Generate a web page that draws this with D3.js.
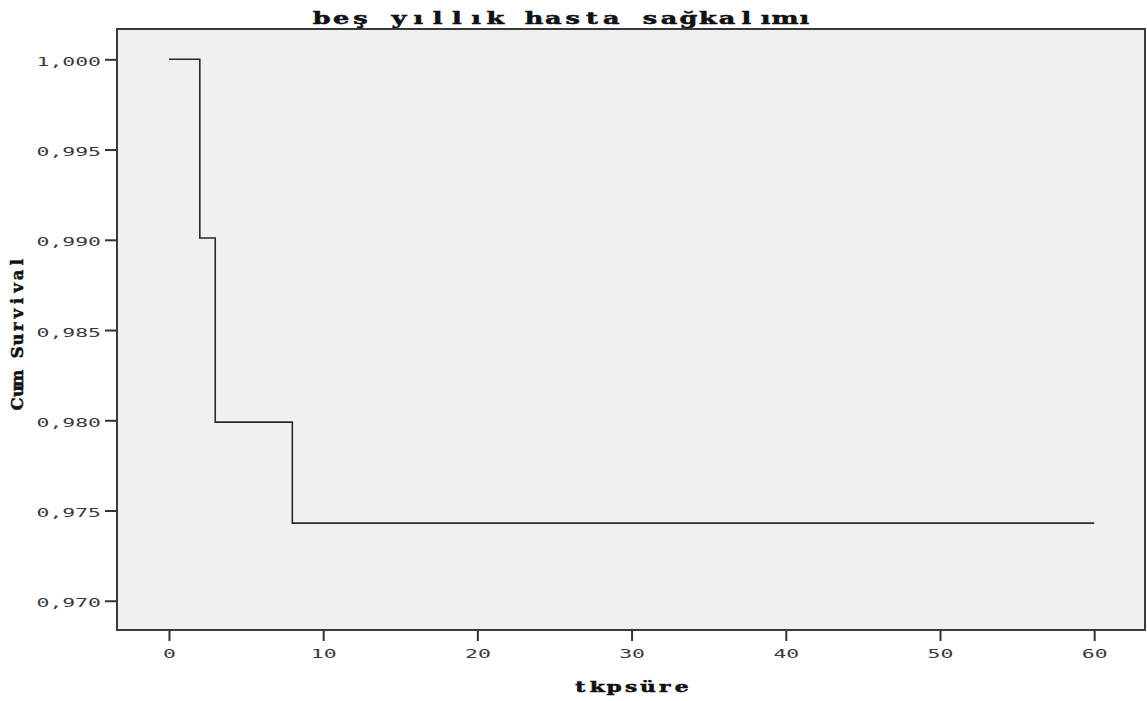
<!DOCTYPE html>
<html>
<head>
<meta charset="utf-8">
<script src="https://cdn.jsdelivr.net/npm/d3@7"></script>
<style>
  html, body { margin: 0; padding: 0; background: #ffffff; }
  svg { display: block; }
</style>
</head>
<body>
<svg id="chart" width="1147" height="701"></svg>
<script>
// ---- data ----
const times = [0, 2, 3, 8, 60];
const survival = [1.000, 0.9901, 0.9799, 0.9743, 0.9743];
const xTicks = [0, 10, 20, 30, 40, 50, 60];
const yTicks = [0.970, 0.975, 0.980, 0.985, 0.990, 0.995, 1.000];
const titleText = "beş yıllık hasta sağkalımı";
const xLabel = "tkpsüre";
const yLabel = "Cum Survival";

// ---- layout ----
const plot = { left: 117, top: 29, right: 1146, bottom: 630 };

const svg = d3.select("#chart");

const x = d3.scaleLinear().domain([-3.37, 63.36]).range([plot.left, plot.right]);
const y = d3.scaleLinear().domain([0.96838, 1.00168]).range([plot.bottom, plot.top]);

// plot background
svg.append("rect")
  .attr("x", plot.left).attr("y", plot.top)
  .attr("width", plot.right - plot.left).attr("height", plot.bottom - plot.top)
  .attr("fill", "#f0f0f0");

// step line
const pts = times.map((t, i) => [t, survival[i]]);
const line = d3.line().x(d => x(d[0])).y(d => y(d[1])).curve(d3.curveStepAfter);
svg.append("path")
  .attr("d", line(pts))
  .attr("fill", "none")
  .attr("stroke", "#2a2a2a")
  .attr("stroke-width", 1.6);

// frame
svg.append("rect")
  .attr("x", plot.left).attr("y", plot.top)
  .attr("width", plot.right - plot.left - 1).attr("height", plot.bottom - plot.top)
  .attr("fill", "none")
  .attr("stroke", "#3a3a3a")
  .attr("stroke-width", 2);

const fmt = v => d3.format(".3f")(v).replace(".", ",");
const charW = 12.9;

// y axis
const yAxis = d3.axisLeft(y).tickValues(yTicks).tickFormat(fmt).tickSize(12).tickPadding(4);
const gy = svg.append("g").attr("transform", `translate(${plot.left},0)`).call(yAxis);
gy.select(".domain").remove();
gy.selectAll(".tick line").attr("stroke", "#333").attr("stroke-width", 2);
gy.selectAll(".tick text")
  .attr("font-family", "DejaVu Sans Mono")
  .attr("font-size", 12)
  .attr("fill", "#3a3a3a")
  .attr("dy", null)
  .attr("y", 6)
  .attr("textLength", d => fmt(d).length * charW)
  .attr("lengthAdjust", "spacingAndGlyphs");

// x axis
const xAxis = d3.axisBottom(x).tickValues(xTicks).tickFormat(d3.format("d")).tickSize(11).tickPadding(6);
const gx = svg.append("g").attr("transform", `translate(0,${plot.bottom})`).call(xAxis);
gx.select(".domain").remove();
gx.selectAll(".tick line").attr("stroke", "#333").attr("stroke-width", 2);
gx.selectAll(".tick text")
  .attr("font-family", "DejaVu Sans Mono")
  .attr("font-size", 12)
  .attr("fill", "#3a3a3a")
  .attr("dy", null)
  .attr("y", 28)
  .attr("textLength", d => String(d).length * charW)
  .attr("lengthAdjust", "spacingAndGlyphs");

// monospaced-cell serif text: each character centred in a fixed-width cell
function monoText(str, transform, cellW, sx, fontSize) {
  const chars = Array.from(str);
  const total = chars.length * cellW;
  const xs = chars.map((c, i) => (((i + 0.5) * cellW - total / 2) / sx).toFixed(2));
  svg.append("text")
    .attr("transform", `${transform} scale(${sx},1)`)
    .attr("x", xs.join(" "))
    .attr("y", 0)
    .attr("text-anchor", "middle")
    .attr("font-family", "DejaVu Serif")
    .attr("font-weight", "bold")
    .attr("font-size", fontSize)
    .attr("fill", "#111")
    .attr("stroke", "#111")
    .attr("stroke-width", 0.5)
    .text(str);
}

monoText(titleText, "translate(563,24)", 19.3, 1.55, 16.5);
monoText(xLabel, "translate(631,692)", 16.9, 1.45, 15);
monoText(yLabel, "translate(23,333) rotate(-90)", 12.9, 1.0, 16.5);
</script>
</body>
</html>
